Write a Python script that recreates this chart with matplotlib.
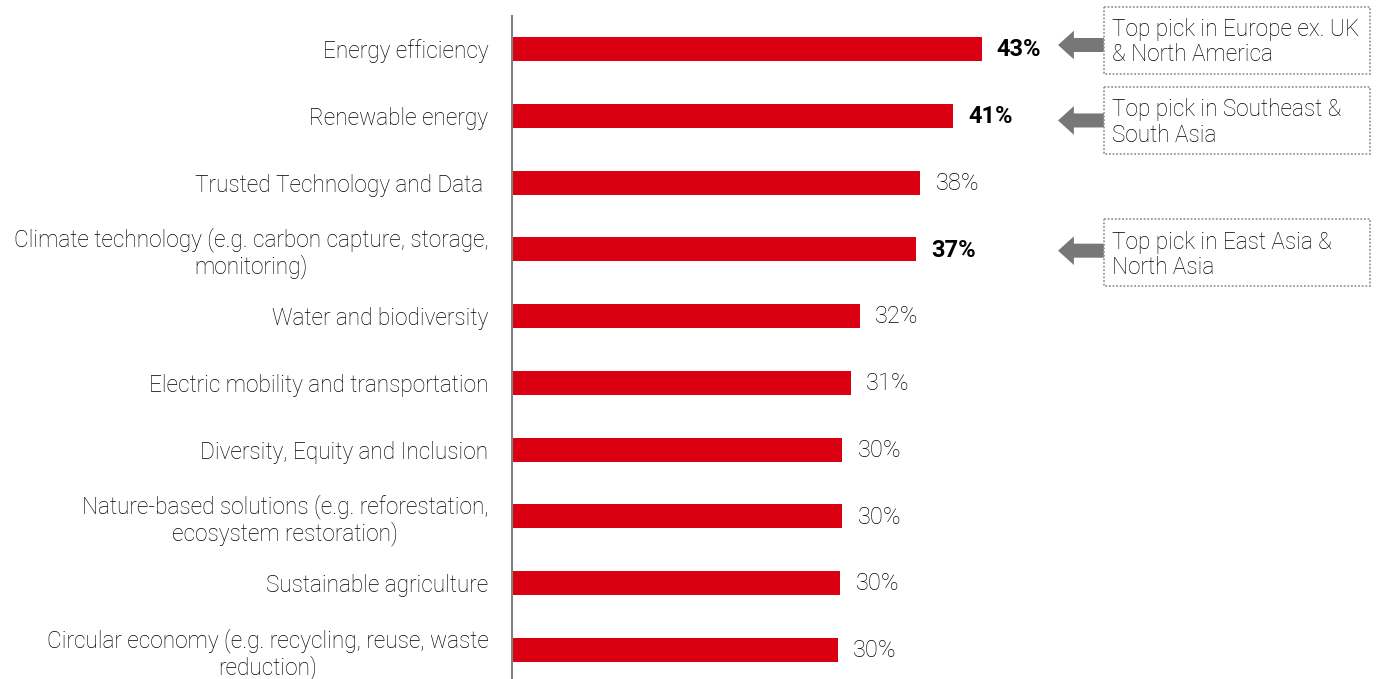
import numpy as np
import matplotlib
matplotlib.use("Agg")
import matplotlib.pyplot as plt
from matplotlib.patches import Rectangle, FancyArrow

plt.rcParams['font.family'] = ['Roboto', 'DejaVu Sans']

# data
categories = [
    "Energy efficiency",
    "Renewable energy",
    "Trusted Technology and Data ",
    "Climate technology (e.g. carbon capture, storage,\nmonitoring)",
    "Water and biodiversity",
    "Electric mobility and transportation",
    "Diversity, Equity and Inclusion",
    "Nature-based solutions (e.g. reforestation,\necosystem restoration)",
    "Sustainable agriculture",
    "Circular economy (e.g. recycling, reuse, waste\nreduction)",
]
values = [43.0, 40.4, 37.4, 37.0, 31.85, 31.0, 30.25, 30.25, 30.05, 29.85]
value_labels = ["43%", "41%", "38%", "37%", "32%", "31%", "30%", "30%", "30%", "30%"]
bold_rows = [0, 1, 3]

callout_rows = [0, 1, 3]
callout_texts = [
    "Top pick in Europe ex. UK\n& North America",
    "Top pick in Southeast &\nSouth Asia",
    "Top pick in East Asia &\nNorth Asia",
]

RED = "#DB0011"
TXT = "#000000"
GREY = "#777777"
FS = 16.3

fig = plt.figure(figsize=(13.78, 6.79), dpi=100)
ax = fig.add_axes([0.3716, -0.0065, 0.6284, 0.9835])

y = np.arange(len(categories))
ax.barh(y, values, height=0.36, color=RED, zorder=2)

for i, (v, lab) in enumerate(zip(values, value_labels)):
    ax.text(v + 1.4, i + 0.01, lab, va="center", ha="left", fontsize=17, color=TXT,
            fontweight="bold" if i in bold_rows else "light")

ax.set_ylim(len(categories) - 0.5, -0.5)
ax.set_xlim(0, 79.3)
ax.set_yticks(y)
ax.set_yticklabels(categories, fontsize=FS, color=TXT, fontweight="light",
                   multialignment="center", linespacing=1.12)
ax.tick_params(axis="y", length=0, pad=17)
ax.set_xticks([])
for s in ["top", "right", "bottom"]:
    ax.spines[s].set_visible(False)
ax.spines["left"].set_color("#808080")
ax.spines["left"].set_linewidth(1.5)

# callout boxes with arrows
box_offsets = [(-0.63, -0.06), (-0.43, 0.07), (-0.45, 0.02)]
for row, txt, (boff, aoff) in zip(callout_rows, callout_texts, box_offsets):
    ay = row + aoff
    ax.add_patch(FancyArrow(54.2, ay, -4.2, 0, width=0.21, head_width=0.43,
                            head_length=1.45, length_includes_head=True,
                            color=GREY, lw=0, clip_on=False))
    top = row + boff
    ax.add_patch(Rectangle((54.2, top), 24.4, 1.0, fill=False, edgecolor="#999999",
                           lw=1.3, linestyle=(0, (1, 1)), clip_on=False))
    ax.text(54.95, top + 0.53, txt, ha="left", va="center", fontsize=FS,
            color=TXT, fontweight="light", linespacing=1.12)

fig.savefig("out.png", dpi=100)
